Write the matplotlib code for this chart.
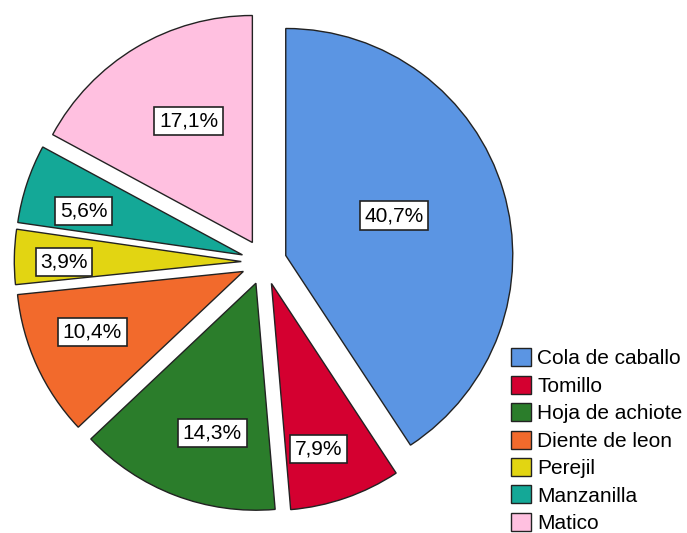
import numpy as np
import matplotlib
matplotlib.use("Agg")
import matplotlib.pyplot as plt

plt.rcParams['font.family'] = ['Liberation Sans', 'DejaVu Sans']

# --- data ---
categories = ['Cola de caballo', 'Tomillo', 'Hoja de achiote', 'Diente de leon',
              'Perejil', 'Manzanilla', 'Matico']
percents = [40.7, 7.9, 14.3, 10.4, 3.9, 5.6, 17.1]
pct_labels = ['40,7%', '7,9%', '14,3%', '10,4%', '3,9%', '5,6%', '17,1%']

colors = ['#5b95e3', '#d40030', '#2b7d2b', '#f26a2c', '#e2d512', '#14a897', '#ffc0e0']

# label placement tweaks (radius units / degrees)
label_dist = [0.608, 0.858, 0.787, 0.816, 0.881, 0.827, 0.703]
label_shift = [-3.0, 2.85, -4.1, 2.4, -1.2, -2.4, 2.6]

fig = plt.figure(figsize=(6.87, 5.33), dpi=100)
ax = fig.add_axes([37 / 687, 44 / 533, 454 / 687, 454 / 533])

wedges, _ = ax.pie(percents, colors=colors, startangle=90, counterclock=False,
                   explode=[0.1] * len(percents), radius=1,
                   wedgeprops=dict(edgecolor='#222222', linewidth=1.0))

# percentage labels in white boxes
total = sum(percents)
cum = 0.0
for p, lab, d, s in zip(percents, pct_labels, label_dist, label_shift):
    mid = (cum + p / 2) / total * 360 + s
    cum += p
    ang = np.deg2rad(90 - mid)
    ax.text(d * np.cos(ang), d * np.sin(ang), lab, fontsize=15,
            ha='center', va='center',
            bbox=dict(boxstyle='square,pad=0.22', facecolor='white',
                      edgecolor='#222222', linewidth=1.2))

ax.set_xlim(-1, 1)
ax.set_ylim(-1, 1)
ax.set_aspect('equal')
ax.axis('off')

fig.legend(wedges, categories, loc='lower left',
           bbox_to_anchor=(511 / 687, 0.0), frameon=False,
           fontsize=15, handlelength=0.95, handleheight=0.95,
           handletextpad=0.3, labelspacing=0.35, borderpad=0,
           borderaxespad=0)

fig.savefig('out.png', dpi=100)
